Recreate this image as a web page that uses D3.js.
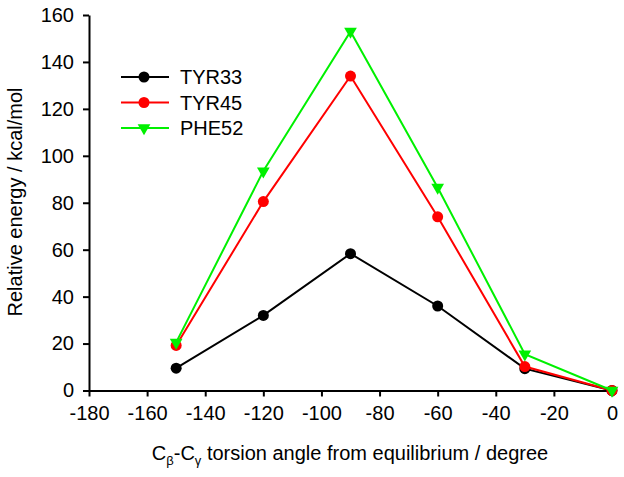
<!DOCTYPE html>
<html><head><meta charset="utf-8">
<script src="https://cdn.jsdelivr.net/npm/d3@7"></script>
<style>body{margin:0;background:#fff}svg{display:block;font-family:"Liberation Sans",Arial,sans-serif}</style>
</head><body>
<svg id="c" width="624" height="477"></svg>
<script>
const angles = [-150, -120, -90, -60, -30, 0];
const tyr33 = [9.5, 32, 58.3, 36, 9.3, 0];
const tyr45 = [19.2, 80.5, 134, 74, 10.2, 0];
const phe52 = [20.5, 93.5, 153, 86.5, 15.5, 0];
const xTicks = [-180, -160, -140, -120, -100, -80, -60, -40, -20, 0];
const yTicks = [0, 20, 40, 60, 80, 100, 120, 140, 160];
const seriesNames = ["TYR33", "TYR45", "PHE52"];

const series = [
  {name: seriesNames[0], vals: tyr33, color: "#000000", marker: "circle"},
  {name: seriesNames[1], vals: tyr45, color: "#ff0000", marker: "circle"},
  {name: seriesNames[2], vals: phe52, color: "#00f000", marker: "tri"}
];

const svg = d3.select("#c");
const x = d3.scaleLinear().domain([-180, 0]).range([89, 612]);
const y = d3.scaleLinear().domain([0, 160]).range([390.5, 15]);
const fmt = d => String(d);

const xAxis = svg.append("g").attr("transform", "translate(0,390.5)")
  .call(d3.axisBottom(x).tickValues(xTicks).tickFormat(fmt).tickSize(6).tickPadding(9).tickSizeOuter(0));
const yAxis = svg.append("g").attr("transform", "translate(89,0)")
  .call(d3.axisLeft(y).tickValues(yTicks).tickFormat(fmt).tickSize(6).tickPadding(9).tickSizeOuter(0));
[xAxis, yAxis].forEach(g => {
  g.selectAll("path,line").attr("stroke", "#000").attr("stroke-width", 2);
  g.selectAll("text").attr("font-size", 20).attr("fill", "#000").attr("font-family", '"Liberation Sans",Arial,sans-serif');
});
xAxis.selectAll("text").attr("dy", "0.71em");

const line = d3.line().x((d, i) => x(angles[i])).y(d => y(d));
const tri = d3.symbol().type(d3.symbolTriangle).size(70);

function drawMarker(g, s, cx, cy) {
  if (s.marker === "circle") {
    g.append("circle").attr("cx", cx).attr("cy", cy).attr("r", 5.5).attr("fill", s.color);
  } else {
    g.append("path").attr("d", tri()).attr("fill", s.color)
      .attr("transform", `translate(${cx},${cy}) rotate(180)`);
  }
}

series.forEach(s => {
  const g = svg.append("g");
  g.append("path").datum(s.vals).attr("d", line).attr("fill", "none")
    .attr("stroke", s.color).attr("stroke-width", 2);
  s.vals.forEach((v, i) => drawMarker(g, s, x(angles[i]), y(v)));
});

// legend
series.forEach((s, i) => {
  const ly = 77 + i * 25.5;
  const g = svg.append("g");
  g.append("line").attr("x1", 121).attr("x2", 169).attr("y1", ly).attr("y2", ly)
    .attr("stroke", s.color).attr("stroke-width", 2);
  drawMarker(g, s, 144, ly);
  g.append("text").attr("x", 180).attr("y", ly).attr("dy", "0.36em")
    .attr("font-size", 20).text(s.name);
});

// axis titles
svg.append("text").attr("transform", "translate(22,202) rotate(-90)")
  .attr("text-anchor", "middle").attr("font-size", 20).text("Relative energy / kcal/mol");

const xt = svg.append("text").attr("x", 350).attr("y", 460)
  .attr("text-anchor", "middle").attr("font-size", 20);
xt.append("tspan").text("C");
xt.append("tspan").attr("font-size", 13).attr("dy", 5).text("β");
xt.append("tspan").attr("dy", -5).text("-C");
xt.append("tspan").attr("font-size", 13).attr("dy", 5).text("γ");
xt.append("tspan").attr("dy", -5).text(" torsion angle from equilibrium / degree");
</script>
</body></html>
